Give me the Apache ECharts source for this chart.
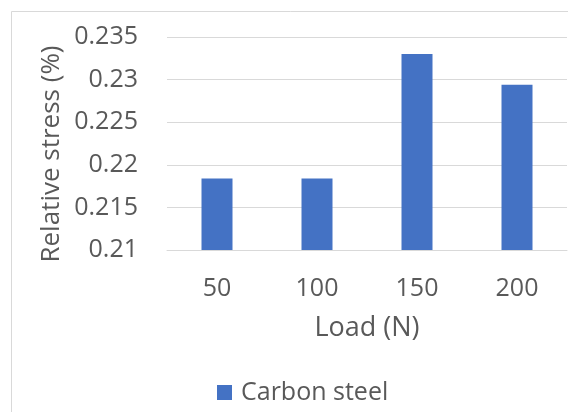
<!DOCTYPE html>
<html>
<head>
<meta charset="utf-8">
<script src="https://cdn.jsdelivr.net/npm/echarts@6/dist/echarts.min.js"></script>
<style>
html,body{margin:0;padding:0;background:#fff;}
#chart{width:568px;height:412px;}
</style>
</head>
<body>
<div id="chart"></div>
<script>
const categories = ['50', '100', '150', '200'];
const carbonSteel = [0.2184, 0.2184, 0.2330, 0.2294];
const yTicks = [0.21, 0.215, 0.22, 0.225, 0.23, 0.235];
const seriesName = 'Carbon steel';
const xName = 'Load (N)';
const yName = 'Relative stress (%)';

const FONT = '"Open Sans", "Noto Sans", sans-serif';
const TXT = '#595959';
const GRID = '#d9d9d9';

const chart = echarts.init(document.getElementById('chart'), null, {renderer: 'canvas'});
chart.setOption({
  animation: false,
  backgroundColor: '#fff',
  grid: {left: 167, right: 1, top: 37, bottom: 162, containLabel: false},
  legend: {
    data: [seriesName],
    left: 212,
    top: 375,
    itemWidth: 15,
    itemHeight: 15,
    icon: 'rect',
    textStyle: {color: TXT, fontSize: 25, fontFamily: FONT, padding: [0, 0, 0, 4]}
  },
  xAxis: {
    type: 'category',
    data: categories,
    name: xName,
    nameLocation: 'middle',
    nameGap: 65,
    nameTextStyle: {color: TXT, fontSize: 27, fontFamily: FONT},
    axisLine: {show: true, lineStyle: {color: GRID, width: 1}},
    axisTick: {show: false},
    axisLabel: {color: TXT, fontSize: 25, fontFamily: FONT, margin: 26}
  },
  yAxis: {
    type: 'value',
    min: yTicks[0],
    max: yTicks[yTicks.length - 1],
    interval: 0.005,
    axisLine: {show: false},
    axisTick: {show: false},
    splitLine: {lineStyle: {color: GRID, width: 1}},
    axisLabel: {
      color: TXT, fontSize: 25, fontFamily: FONT, margin: 29,
      formatter: v => String(parseFloat(v.toFixed(4)))
    }
  },
  graphic: [
    {type: 'rect', shape: {x: 11.5, y: 11.5, width: 700, height: 600},
     style: {fill: 'none', stroke: GRID, lineWidth: 1}, silent: true, z: -1},
    {type: 'text', x: 52, y: 154, rotation: Math.PI / 2,
     style: {text: yName, fill: TXT, font: '26px ' + FONT, align: 'center', verticalAlign: 'middle'}}
  ],
  series: [{
    name: seriesName,
    type: 'bar',
    data: carbonSteel,
    barWidth: 31,
    itemStyle: {color: '#4472C4'}
  }]
});
</script>
</body>
</html>
